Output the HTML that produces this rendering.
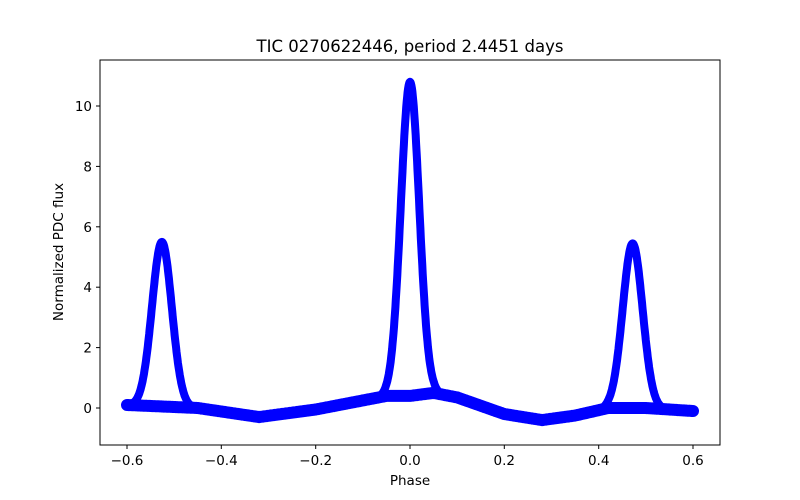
<!DOCTYPE html>
<html><head><meta charset="utf-8"><style>
body{margin:0;background:#fff}
svg{display:block;font-family:"DejaVu Sans","Liberation Sans",sans-serif}
</style></head><body>
<svg id="s" width="800" height="500" xmlns="http://www.w3.org/2000/svg">
<rect width="800" height="500" fill="#fff"/>
<g id="data" fill="none" stroke="#0000ff" stroke-linejoin="round" stroke-linecap="round"></g>
<rect x="100" y="60" width="620" height="385" fill="none" stroke="#000" stroke-width="1"/>
<g stroke="#000" stroke-width="1">
<line x1="127" y1="445" x2="127" y2="449"/><line x1="221.3" y1="445" x2="221.3" y2="449"/><line x1="315.7" y1="445" x2="315.7" y2="449"/><line x1="410" y1="445" x2="410" y2="449"/><line x1="504.3" y1="445" x2="504.3" y2="449"/><line x1="598.7" y1="445" x2="598.7" y2="449"/><line x1="693" y1="445" x2="693" y2="449"/>
<line x1="96" y1="408" x2="100" y2="408"/><line x1="96" y1="347.6" x2="100" y2="347.6"/><line x1="96" y1="287.2" x2="100" y2="287.2"/><line x1="96" y1="226.8" x2="100" y2="226.8"/><line x1="96" y1="166.4" x2="100" y2="166.4"/><line x1="96" y1="106" x2="100" y2="106"/>
</g>
<g font-size="13.5" fill="#000" text-anchor="middle">
<text x="127" y="465">−0.6</text><text x="221.3" y="465">−0.4</text><text x="315.7" y="465">−0.2</text><text x="410" y="465">0.0</text><text x="504.3" y="465">0.2</text><text x="598.7" y="465">0.4</text><text x="693" y="465">0.6</text>
</g>
<g font-size="13.5" fill="#000" text-anchor="end">
<text x="92" y="413">0</text><text x="92" y="352.6">2</text><text x="92" y="292.2">4</text><text x="92" y="231.8">6</text><text x="92" y="171.4">8</text><text x="92" y="111">10</text>
</g>
<text x="410" y="485" font-size="13.5" text-anchor="middle">Phase</text>
<text transform="translate(63,252) rotate(-90)" font-size="13.5" text-anchor="middle">Normalized PDC flux</text>
<text x="410" y="52" font-size="16.5" text-anchor="middle">TIC 0270622446, period 2.4451 days</text>
</svg>
<script>
var X=function(p){return 410+p*471.67}, Y=function(v){return 408-v*30.2};
var bp=[[-0.6,0.1],[-0.45,0],[-0.32,-0.3],[-0.2,-0.05],[-0.1,0.25],[-0.05,0.4],[0,0.4],[0.05,0.5],[0.1,0.35],[0.2,-0.2],[0.28,-0.4],[0.35,-0.25],[0.42,0],[0.5,0],[0.6,-0.1]];
function base(x){for(var i=0;i<bp.length-1;i++){if(x<=bp[i+1][0]){var t=(x-bp[i][0])/(bp[i+1][0]-bp[i][0]);return bp[i][1]+t*(bp[i+1][1]-bp[i][1]);}}return -0.1;}
function f(x){return base(x)+10.4*Math.exp(-x*x/(2*0.0195*0.0195))+5.45*Math.exp(-Math.pow(x+0.526,2)/(2*0.021*0.021))+5.45*Math.exp(-Math.pow(x-0.472,2)/(2*0.021*0.021));}
var d="";for(var x=-0.6;x<=0.6001;x+=0.001){d+=(d?"L":"M")+X(x).toFixed(1)+" "+Y(f(x)).toFixed(1);}
var g=document.getElementById("data");
var b="";for(var x=-0.6;x<=0.6001;x+=0.002){b+=(b?"L":"M")+X(x).toFixed(1)+" "+Y(base(x)).toFixed(1);}
g.innerHTML='<path d="'+b+'" stroke-width="12"/><path d="'+d+'" stroke-width="8"/>';
</script>
</body></html>
